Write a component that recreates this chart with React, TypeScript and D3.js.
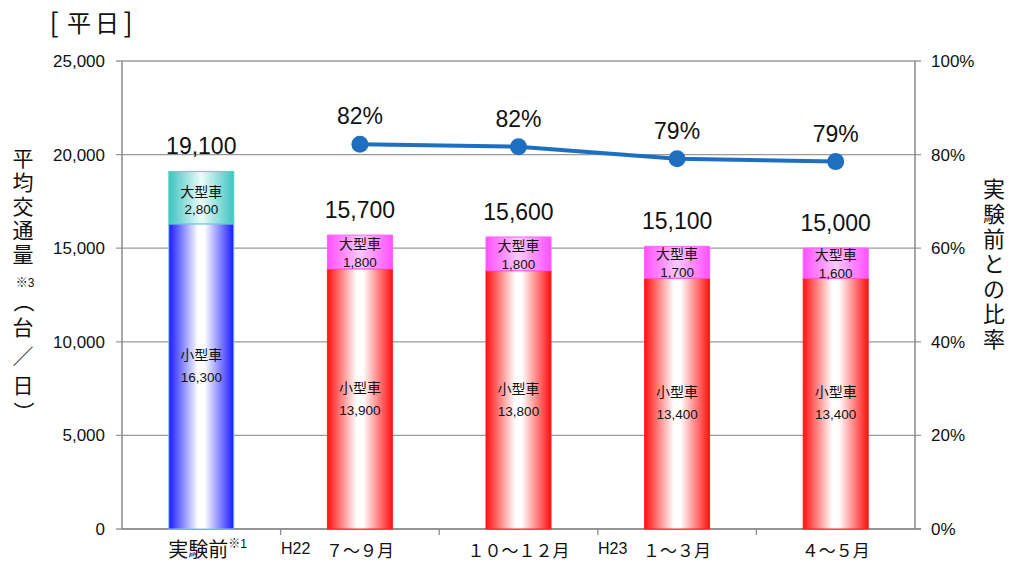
import React from "react";
import * as d3 from "d3";

const categories = ["before", "h22q3", "h22q4", "h23q1", "h23q2"];
const smallCars = [16300, 13900, 13800, 13400, 13400];
const largeCars = [2800, 1800, 1800, 1700, 1600];
const totals = [19100, 15700, 15600, 15100, 15000];
const ratioCats = ["h22q3", "h22q4", "h23q1", "h23q2"];
const ratios = [82.2, 81.7, 79.1, 78.5];
const ratioLabels = ["82%", "82%", "79%", "79%"];
const leftTicks = [0, 5000, 10000, 15000, 20000, 25000];
const rightTicks = [0, 20, 40, 60, 80, 100];

const W = 1011, H = 567;
const M = { left: 122, right: 96, top: 61, bottom: 38 };
const FONT = "'Liberation Sans', 'Noto Sans CJK JP', sans-serif";

export default function App() {
  const x = d3.scaleBand().domain(categories).range([M.left, W - M.right]).paddingInner(0).paddingOuter(0);
  const y = d3.scaleLinear().domain([0, 25000]).range([H - M.bottom, M.top]);
  const yr = d3.scaleLinear().domain([0, 100]).range([H - M.bottom, M.top]);
  const bw = 65;
  const cx = (c: string) => (x(c) as number) + x.bandwidth() / 2;
  const fmt = d3.format(",");
  const line = d3.line<number>().x((_, i) => cx(ratioCats[i])).y((d) => yr(d));
  const x0 = M.left, x1 = W - M.right, yb = H - M.bottom;

  return (
    <svg width={W} height={H} style={{ position: "absolute", left: 0, top: 0, background: "#fff" }} fontFamily={FONT}>
      <defs>
        <linearGradient id="gBlue" x1="0" x2="1" y1="0" y2="0">
          <stop offset="0" stopColor="#1a1aff" />
          <stop offset="0.45" stopColor="#ffffff" />
          <stop offset="0.55" stopColor="#ffffff" />
          <stop offset="1" stopColor="#1a1aff" />
        </linearGradient>
        <linearGradient id="gTeal" x1="0" x2="1" y1="0" y2="0">
          <stop offset="0" stopColor="#3cc4c0" />
          <stop offset="0.5" stopColor="#ecfbfa" />
          <stop offset="1" stopColor="#3cc4c0" />
        </linearGradient>
        <linearGradient id="gRed" x1="0" x2="1" y1="0" y2="0">
          <stop offset="0" stopColor="#ff1010" />
          <stop offset="0.45" stopColor="#ffffff" />
          <stop offset="0.55" stopColor="#ffffff" />
          <stop offset="1" stopColor="#ff1010" />
        </linearGradient>
        <linearGradient id="gPink" x1="0" x2="1" y1="0" y2="0">
          <stop offset="0" stopColor="#ff50ff" />
          <stop offset="0.5" stopColor="#ffc8ff" />
          <stop offset="1" stopColor="#ff50ff" />
        </linearGradient>
      </defs>

      {/* title */}
      <g fill="#111" textAnchor="middle" fontFamily="'Noto Sans CJK JP', sans-serif">
        <text x={54} y={33} fontSize={27}>[</text>
        <text x={79} y={32} fontSize={24}>平</text>
        <text x={107} y={32} fontSize={24}>日</text>
        <text x={128} y={33} fontSize={27}>]</text>
      </g>

      {/* gridlines */}
      {leftTicks.map((t) => (
        <line key={"g" + t} x1={x0 - 6} x2={x1 + 6} y1={y(t)} y2={y(t)} stroke="#9a9a9a" strokeWidth={1.3} />
      ))}
      {/* axes */}
      <line x1={x0} x2={x0} y1={M.top} y2={yb} stroke="#8a8a8a" strokeWidth={1.5} />
      <line x1={x1} x2={x1} y1={M.top} y2={yb} stroke="#8a8a8a" strokeWidth={1.5} />
      <line x1={x0} x2={x1 + 6} y1={yb} y2={yb} stroke="#8a8a8a" strokeWidth={1.5} />
      {categories.slice(1).map((c) => (
        <line key={"t" + c} x1={x(c) as number} x2={x(c) as number} y1={yb} y2={yb + 6} stroke="#8a8a8a" strokeWidth={1.3} />
      ))}

      {/* left tick labels */}
      {leftTicks.map((t) => (
        <text key={"l" + t} x={105} y={y(t)} dy="0.35em" textAnchor="end" fontSize={17} fill="#111">{fmt(t)}</text>
      ))}
      {/* right tick labels */}
      {rightTicks.map((t) => (
        <text key={"r" + t} x={931} y={yr(t)} dy="0.35em" textAnchor="start" fontSize={17} fill="#111">{t + "%"}</text>
      ))}

      {/* bars */}
      {categories.map((c, i) => {
        const left = cx(c) - bw / 2;
        const first = i === 0;
        const ySmallTop = y(smallCars[i]);
        const yTop = y(smallCars[i] + largeCars[i]);
        const midSmall = (ySmallTop + yb) / 2;
        const midLarge = (yTop + ySmallTop) / 2;
        return (
          <g key={c}>
            <rect x={left} y={ySmallTop} width={bw} height={yb - ySmallTop}
              fill={first ? "url(#gBlue)" : "url(#gRed)"} stroke={first ? "#7fc4ea" : "#ff2020"} strokeWidth={1} />
            <rect x={left} y={yTop} width={bw} height={ySmallTop - yTop}
              fill={first ? "url(#gTeal)" : "url(#gPink)"} stroke={first ? "#5ccfcb" : "#ff60ff"} strokeWidth={1} />
            <text x={cx(c)} y={midLarge - (first ? 6 : 8)} textAnchor="middle" dy="0.35em" fontSize={14} fill="#111">大型車</text>
            <text x={cx(c)} y={midLarge + (first ? 12 : 10)} textAnchor="middle" dy="0.35em" fontSize={13.5} fill="#111">{fmt(largeCars[i])}</text>
            <text x={cx(c)} y={midSmall - 11 - (first ? 10 : 0)} textAnchor="middle" dy="0.35em" fontSize={14} fill="#111">小型車</text>
            <text x={cx(c)} y={midSmall + 11 - (first ? 10 : 0)} textAnchor="middle" dy="0.35em" fontSize={13.5} fill="#111">{fmt(smallCars[i])}</text>
            <text x={cx(c)} y={yTop - 25} textAnchor="middle" dy="0.35em" fontSize={23} fill="#111">{fmt(totals[i])}</text>
          </g>
        );
      })}

      {/* ratio line */}
      <path d={line(ratios) as string} fill="none" stroke="#1f6fc0" strokeWidth={4} />
      {ratios.map((r, i) => (
        <g key={"p" + i}>
          <circle cx={cx(ratioCats[i])} cy={yr(r)} r={8.5} fill="#1f6fc0" />
          <text x={cx(ratioCats[i])} y={yr(r) - 28} textAnchor="middle" dy="0.35em" fontSize={23} fill="#111">{ratioLabels[i]}</text>
        </g>
      ))}

      {/* x category labels */}
      <g fontSize={17} fill="#111">
        <text x={cx("before") - 33} y={557} fontSize={20}>実験前</text>
        <text x={cx("before") + 27} y={548} fontSize={12}>※1</text>
        <text x={281} y={554} fontSize={16}>H22</text>
        <text x={cx("h22q3")} y={557} textAnchor="middle">７〜９月</text>
        <text x={cx("h22q4")} y={557} textAnchor="middle">１０〜１２月</text>
        <text x={598} y={554} fontSize={16}>H23</text>
        <text x={cx("h23q1")} y={557} textAnchor="middle">１〜３月</text>
        <text x={cx("h23q2")} y={557} textAnchor="middle">４〜５月</text>
      </g>

      {/* left axis title */}
      <g fontSize={21} fill="#111" textAnchor="middle">
        {["平", "均", "交", "通", "量"].map((ch, i) => (
          <text key={ch} x={23} y={166 + i * 24}>{ch}</text>
        ))}
        <text x={25} y={287} fontSize={12}>※3</text>
        <text x={23} y={302} dy="0.35em" transform="rotate(90 23 302)" fontFamily="'Noto Sans CJK JP', sans-serif">（</text>
        <text x={23} y={335}>台</text>
        <text x={23} y={364}>／</text>
        <text x={23} y={393}>日</text>
        <text x={23} y={412} dy="0.35em" transform="rotate(90 23 412)" fontFamily="'Noto Sans CJK JP', sans-serif">）</text>
      </g>

      {/* right axis title */}
      <g fontSize={22} fill="#111" textAnchor="middle">
        {["実", "験", "前", "と", "の", "比", "率"].map((ch, i) => (
          <text key={ch + i} x={994} y={197 + i * 25}>{ch}</text>
        ))}
      </g>
    </svg>
  );
}
